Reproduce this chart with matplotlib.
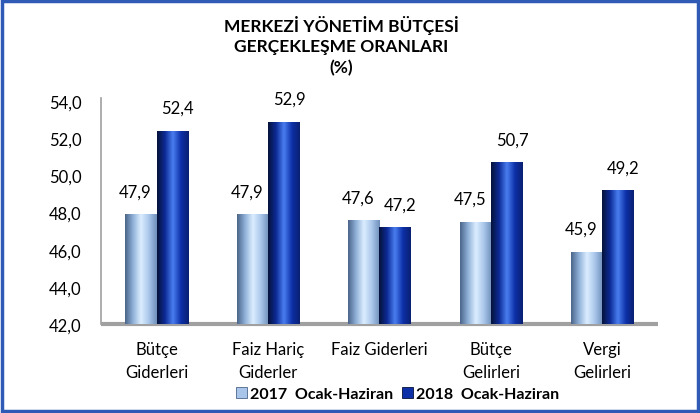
import numpy as np
import matplotlib.pyplot as plt
from matplotlib.colors import LinearSegmentedColormap
from matplotlib.patches import Rectangle, Patch

plt.rcParams['font.family'] = ['Lato', 'DejaVu Sans']

# Data
categories = ['Bütçe\nGiderleri', 'Faiz Hariç\nGiderler', 'Faiz Giderleri', 'Bütçe\nGelirleri', 'Vergi\nGelirleri']
vals_2017 = [47.9, 47.9, 47.6, 47.5, 45.9]
vals_2018 = [52.4, 52.9, 47.2, 50.7, 49.2]
series_names = ['2017  Ocak-Haziran', '2018  Ocak-Haziran']

light_cmap = LinearSegmentedColormap.from_list('light', ['#4a6488', '#8fb0d8', '#dceeff', '#a9c6ea', '#6f8fba'])
dark_cmap = LinearSegmentedColormap.from_list('dark', ['#061238', '#0c2a96', '#4a7ef0', '#0d30a8', '#0a1f70'])

fig = plt.figure(figsize=(7, 4.14), dpi=100)
ax = fig.add_axes([0.144, 0.215, 0.796, 0.545])

x = np.arange(len(categories))
w = 0.28
grad = np.linspace(0, 1, 256).reshape(1, -1)


def gradient_bars(xs, vals, cmap):
    bars = ax.bar(xs, vals, w, bottom=42, color='none', zorder=3)
    for b in bars:
        x0, y0 = b.get_x(), b.get_y()
        bw, bh = b.get_width(), b.get_height()
        im = ax.imshow(grad, cmap=cmap, aspect='auto', extent=[x0, x0 + bw, y0, y0 + bh],
                       zorder=3, interpolation='bicubic')
        im.set_clip_path(b)
    return bars


gradient_bars(x - w / 2, [v - 42 for v in vals_2017], light_cmap)
gradient_bars(x + w / 2, [v - 42 for v in vals_2018], dark_cmap)

for i in range(len(categories)):
    ax.text(x[i] - w / 2 - 0.05, vals_2017[i] + 0.8, f'{vals_2017[i]:.1f}'.replace('.', ','),
            ha='center', va='bottom', fontsize=12)
    ax.text(x[i] + w / 2 + 0.05, vals_2018[i] + 0.8, f'{vals_2018[i]:.1f}'.replace('.', ','),
            ha='center', va='bottom', fontsize=12)

ax.set_xlim(-0.5, len(categories) - 0.5)
ax.set_ylim(42, 54.15)
yt = np.arange(42, 54.1, 2)
ax.set_yticks(yt)
ax.set_yticklabels([f'{t:.1f}'.replace('.', ',') for t in yt], fontsize=12)
ax.set_xticks(x)
ax.set_xticklabels(categories, fontsize=12, linespacing=1.6)
ax.tick_params(axis='y', length=0, pad=14)
ax.tick_params(axis='x', length=0, pad=12)
ax.set_autoscale_on(False)

for s in ['top', 'right']:
    ax.spines[s].set_visible(False)
ax.spines['left'].set_color('#a0a0a0')
ax.spines['left'].set_linewidth(1.2)
ax.spines['bottom'].set_color('#a0a0a0')
ax.spines['bottom'].set_linewidth(3)
ax.spines['bottom'].set_capstyle('butt')

fig.text(0.488, 0.962, 'MERKEZİ YÖNETİM BÜTÇESİ\nGERÇEKLEŞME ORANLARI\n(%)',
         ha='center', va='top', fontsize=12.5, fontweight='bold', linespacing=1.35)

handles = [Patch(facecolor='#a9c6ea', edgecolor='#4a6488', linewidth=0.6),
           Patch(facecolor='#0d30a8', edgecolor='#061238', linewidth=0.6)]
fig.legend(handles, series_names, loc='center', bbox_to_anchor=(0.568, 0.046), ncol=2,
           frameon=False, prop={'weight': 'bold', 'size': 11.5}, handlelength=0.7,
           handleheight=0.7, handletextpad=0.2, columnspacing=0.5)

fig.patches.append(Rectangle((0.003, 0.004), 0.994, 0.99, transform=fig.transFigure,
                             fill=False, edgecolor='#2f5bb7', linewidth=2.5))

fig.savefig('out.png', dpi=100)
